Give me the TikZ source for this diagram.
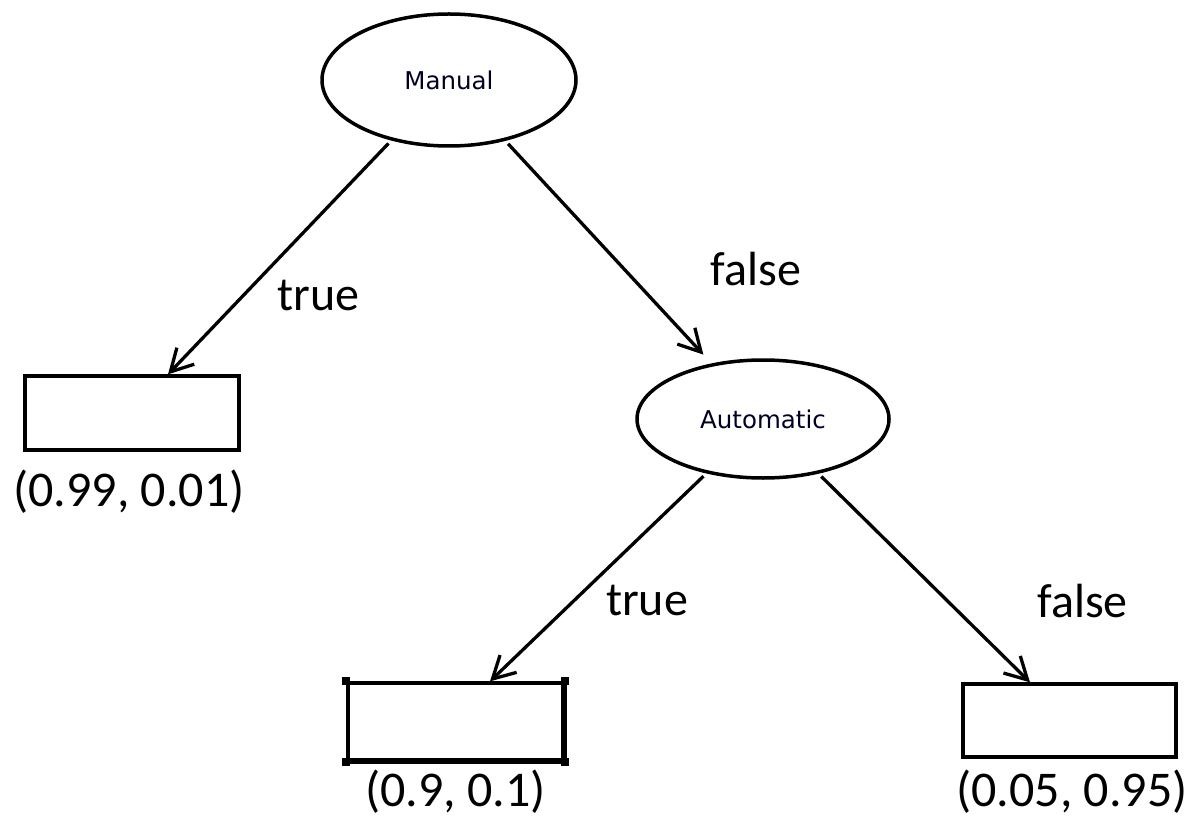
\documentclass[tikz,border=0pt]{standalone}
\usepackage{fontspec}
\setmainfont{Carlito}
\newfontfamily\shapefont{DejaVu Sans}
\usetikzlibrary{shapes.geometric,arrows.meta}
\begin{document}
\begin{tikzpicture}[x=1pt,y=-1pt,
  decision/.style={ellipse,draw,line width=3.5pt,inner sep=0pt,font=\shapefont\fontsize{24.5}{28}\selectfont,text=black!85!blue},
  leaf/.style={rectangle,draw,line width=3.3pt,inner sep=0pt},
  edgelabel/.style={anchor=base,inner sep=0pt,font=\fontsize{48}{56}\selectfont},
  leaflabel/.style={anchor=base,inner sep=0pt,font=\fontsize{50}{60}\selectfont},
  conn/.style={line width=3.3pt,-{Straight Barb[length=22pt,width=24pt]}},
  handle/.style={fill=black},
]
\useasboundingbox (0,0) rectangle (1204,818);

\node[decision,minimum width=254pt,minimum height=132pt] (man) at (449,80) {Manual};
\node[decision,minimum width=252pt,minimum height=118pt] (auto) at (763,419) {Automatic};

\node[leaf,minimum width=214pt,minimum height=74pt] (lbox) at (132,413) {};
\node[leaf,minimum width=215pt,minimum height=77pt] (mbox) at (455.5,721.5) {};
\node[leaf,minimum width=213pt,minimum height=73pt] (rbox) at (1069.5,720.5) {};

% selection emphasis on the middle box
\draw[line width=5.5pt] (mbox.south west) -- (mbox.south east);
\draw[line width=5pt] (mbox.north east) -- (mbox.south east);
\foreach \c in {north west,north east,south west,south east}
  \fill[handle] ([shift={(-4pt,-4pt)}]mbox.\c) rectangle +(8pt,8pt);

\node[leaflabel] (l1) at (129,506) {(0.99, 0.01)};
\node[leaflabel] (l2) at (455.5,806) {(0.9, 0.1)};
\node[leaflabel] (l3) at (1072,806) {(0.05, 0.95)};

\coordinate (t1) at ([xshift=36pt]lbox.north);
\coordinate (t3) at ([xshift=34.5pt]mbox.north);
\coordinate (t4) at ([xshift=-39.5pt]rbox.north);

\draw[conn,shorten <=4pt] (man) -- (t1);
\draw[conn,shorten <=4pt,shorten >=12pt] (man) -- (auto);
\draw[conn,shorten <=4pt] (auto) -- (t3);
\draw[conn,shorten <=4pt] (auto) -- (t4);

\node[edgelabel] (e1) at (318.5,310) {true};
\node[edgelabel] (e2) at (756,285) {false};
\node[edgelabel] (e3) at (647,615) {true};
\node[edgelabel] (e4) at (1082.5,617) {false};
\end{tikzpicture}
\end{document}
